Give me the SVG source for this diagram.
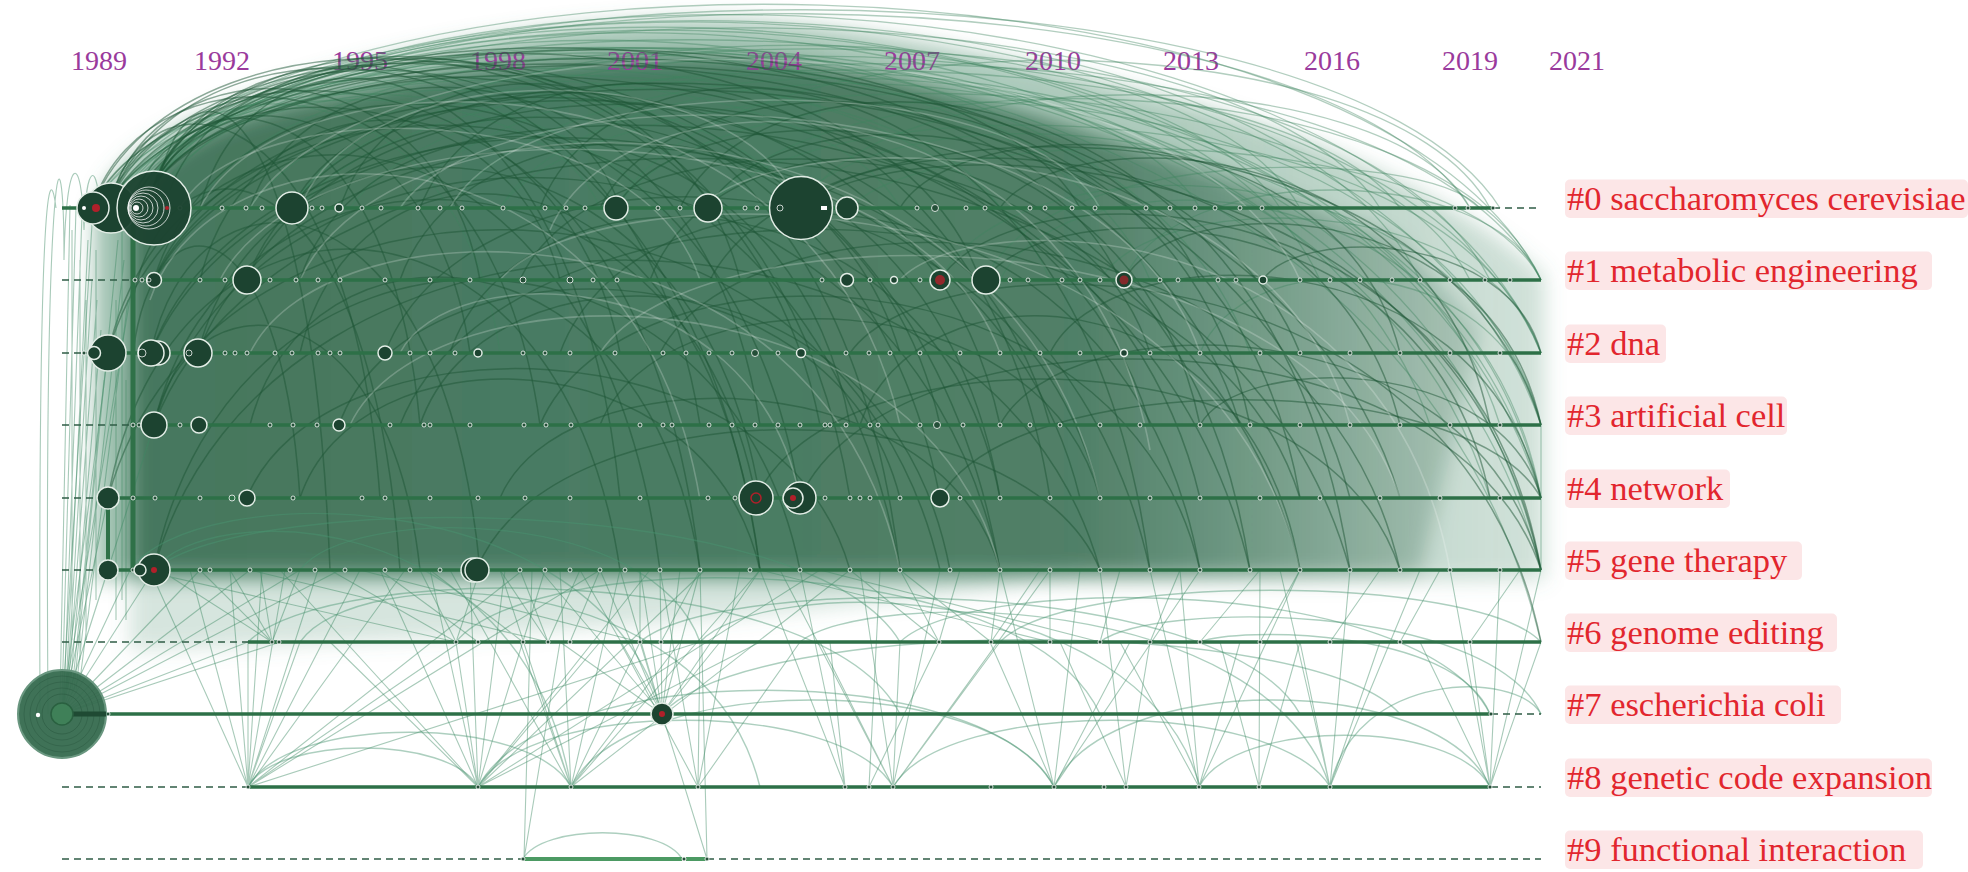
<svg xmlns="http://www.w3.org/2000/svg" width="1968" height="872" viewBox="0 0 1968 872">
<defs>
<style>
.yr{font-family:"Liberation Serif","Times New Roman",serif;font-size:28px;fill:#9a3a9c;text-anchor:middle}
.lb{font-family:"Liberation Serif","Times New Roman",serif;font-size:34.5px;fill:#e2262e}
.bx{fill:#fce6e7}
.o{fill:none;stroke:#3f8560;stroke-width:1.3;stroke-opacity:.4}
.d{fill:none;stroke:#1d5536;stroke-width:1.5;stroke-opacity:.5}
.w{fill:none;stroke:#ffffff;stroke-width:1.6;stroke-opacity:.22}
.l{fill:none;stroke:#3f8a63;stroke-width:1.1;stroke-opacity:.45}
.l2{fill:none;stroke:#4a9470;stroke-width:1.4;stroke-opacity:.45}
.row{stroke:#2d7047;stroke-width:3.5;fill:none}
.dash{stroke:#2f5c46;stroke-width:1.5;stroke-dasharray:7 5;fill:none}
.n{fill:#1c4330;stroke:#e3ede6;stroke-width:1.5}
.dot{fill:#244f38;stroke:#ffffff;stroke-width:.8}
.red{fill:#b0202a}
.ring{fill:none;stroke:#ffffff;stroke-width:1;stroke-opacity:.75}
</style>
<linearGradient id="gM" gradientUnits="userSpaceOnUse" x1="60" y1="0" x2="1545" y2="0">
<stop offset="0" stop-color="#5d977a" stop-opacity=".6"/>
<stop offset=".75" stop-color="#5d977a" stop-opacity=".5"/>
<stop offset="1" stop-color="#5d977a" stop-opacity=".28"/>
</linearGradient>
<linearGradient id="gD" gradientUnits="userSpaceOnUse" x1="60" y1="0" x2="1545" y2="0">
<stop offset="0" stop-color="#2b6246" stop-opacity=".78"/>
<stop offset=".68" stop-color="#2b6246" stop-opacity=".72"/>
<stop offset=".85" stop-color="#2b6246" stop-opacity=".4"/>
<stop offset="1" stop-color="#2b6246" stop-opacity=".12"/>
</linearGradient>
<filter id="bl" x="-5%" y="-10%" width="110%" height="120%"><feGaussianBlur stdDeviation="10"/></filter>
</defs>
<rect width="1968" height="872" fill="#ffffff"/>

<g id="edge-density" filter="url(#bl)">
<path fill="url(#gM)" d="M95 215C110 150 190 115 314 78C440 40 560 24 690 20C830 18 1000 55 1192 105C1330 142 1460 200 1545 275L1545 580L95 580Z"/>
<path fill="url(#gD)" d="M130 210C150 150 230 115 314 100C440 72 560 56 690 56C830 58 950 88 1067 125C1180 160 1290 195 1400 240L1480 330L1420 575L130 575Z"/>
<path fill="#5d977a" fill-opacity=".25" d="M130 570L1100 570C900 610 500 640 130 650Z"/>
</g>

<g id="years">
<text class="yr" x="99" y="70">1989</text>
<text class="yr" x="222" y="70">1992</text>
<text class="yr" x="360" y="70">1995</text>
<text class="yr" x="498" y="70">1998</text>
<text class="yr" x="635" y="70">2001</text>
<text class="yr" x="774" y="70">2004</text>
<text class="yr" x="912" y="70">2007</text>
<text class="yr" x="1053" y="70">2010</text>
<text class="yr" x="1191" y="70">2013</text>
<text class="yr" x="1332" y="70">2016</text>
<text class="yr" x="1470" y="70">2019</text>
<text class="yr" x="1577" y="70">2021</text>
</g>

<g id="connectors">
<path class="o" d="M100 205C273 -74 1368 -74 1541 280"/>
<path class="o" d="M110 200C277 -55 1333 -55 1500 208"/>
<path class="o" d="M120 198C291 -68 1370 -68 1541 353"/>
<path class="o" d="M140 190C300 -48 1310 -48 1470 208"/>
<path class="o" d="M154 180C320 -61 1375 -61 1541 425"/>
<path class="o" d="M93 205C252 -52 1261 -52 1420 280"/>
<path class="o" d="M154 175C320 -59 1375 -59 1541 498"/>
<path class="o" d="M130 195C280 -30 1230 -30 1380 208"/>
<path class="o" d="M150 180C290 -34 1180 -34 1320 280"/>
<path class="o" d="M160 178C326 -58 1375 -58 1541 570"/>
<path class="o" d="M111 200C251 -15 1140 -15 1280 208"/>
<path class="o" d="M154 185C286 -30 1118 -30 1250 353"/>
<path class="o" d="M120 200C250 -4 1070 -4 1200 208"/>
<path class="o" d="M140 190C302 -35 1328 -35 1490 498"/>
<path class="o" d="M170 182C288 -4 1032 -4 1150 280"/>
<path class="o" d="M93 205C214 9 979 9 1100 208"/>
<path class="o" d="M154 180C320 -43 1375 -43 1541 642"/>
<path class="o" d="M200 200C348 -24 1282 -24 1430 425"/>
<path class="o" d="M250 208C399 -15 1341 -15 1490 280"/>
<path class="o" d="M290 208C440 -14 1391 -14 1541 353"/>
<path class="o" d="M160 190C267 15 943 15 1050 280"/>
<path class="o" d="M111 200C218 32 893 32 1000 208"/>
<path class="o" d="M300 208C432 24 1268 24 1400 208"/>
<path class="o" d="M350 208C493 5 1398 5 1541 280"/>
<path class="o" d="M400 208C532 1 1368 1 1500 425"/>
<path class="o" d="M450 208C581 2 1410 2 1541 498"/>
<path class="o" d="M500 208C616 45 1354 45 1470 280"/>
<path class="o" d="M616 208C727 41 1430 41 1541 425"/>
<path class="o" d="M708 208C808 80 1441 80 1541 353"/>
<path class="o" d="M801 200C890 84 1452 84 1541 498"/>
<path class="o" d="M850 208C933 119 1458 119 1541 280"/>
<path class="o" d="M940 280C1012 136 1469 136 1541 425"/>
<path class="o" d="M1000 280C1065 150 1476 150 1541 498"/>
<path class="o" d="M1100 280C1153 188 1488 188 1541 353"/>
<path class="o" d="M1200 353C1241 244 1500 244 1541 425"/>
<path class="o" d="M154 185C244 41 810 41 900 208"/>
<path class="o" d="M154 185C232 55 722 55 800 208"/>
<path class="o" d="M93 205C166 46 627 46 700 280"/>
<path class="o" d="M120 200C178 65 542 65 600 208"/>
<path class="o" d="M140 190C183 56 457 56 500 353"/>
<path class="o" d="M616 208C721 11 1385 11 1490 208"/>
<path class="o" d="M801 208C881 57 1390 57 1470 208"/>
<path class="o" d="M292 208C413 -9 1179 -9 1300 208"/>
<path class="o" d="M708 208C808 52 1441 52 1541 280"/>
<path class="o" d="M985 280C1044 145 1421 145 1480 208"/>
<path class="o" d="M1124 280C1174 160 1491 160 1541 280"/>
<path class="o" d="M500 208C625 4 1416 4 1541 570"/>

<path class="d" d="M154 185C220 -2 634 -2 700 425"/>
<path class="d" d="M154 185C238 -21 766 -21 850 498"/>
<path class="d" d="M154 185C256 -19 898 -19 1000 570"/>
<path class="d" d="M154 185C274 12 1030 12 1150 425"/>
<path class="d" d="M154 185C292 4 1162 4 1300 353"/>
<path class="d" d="M111 200C172 35 559 35 620 353"/>
<path class="d" d="M111 200C189 -15 682 -15 760 570"/>
<path class="d" d="M111 200C210 -16 841 -16 940 498"/>
<path class="d" d="M111 200C232 7 999 7 1120 280"/>
<path class="d" d="M93 205C147 35 486 35 540 425"/>
<path class="d" d="M93 205C190 14 803 14 900 353"/>
<path class="d" d="M154 280C232 17 722 17 800 498"/>
<path class="d" d="M154 280C262 16 942 16 1050 425"/>
<path class="d" d="M154 280C286 5 1118 5 1250 570"/>
<path class="d" d="M154 280C304 -3 1250 -3 1400 498"/>
<path class="d" d="M247 280C330 43 857 43 940 425"/>
<path class="d" d="M247 280C361 17 1086 17 1200 498"/>
<path class="d" d="M108 353C174 60 594 60 660 570"/>
<path class="d" d="M108 353C203 20 805 20 900 570"/>
<path class="d" d="M151 353C262 45 969 45 1080 498"/>
<path class="d" d="M151 353C289 20 1162 20 1300 569"/>
<path class="d" d="M198 353C265 85 693 85 760 498"/>
<path class="d" d="M198 353C312 46 1036 46 1150 570"/>
<path class="d" d="M154 425C226 113 684 113 756 498"/>
<path class="d" d="M154 425C256 74 898 74 1000 570"/>
<path class="d" d="M154 425C298 48 1206 48 1350 570"/>
<path class="d" d="M108 498C169 155 559 155 620 570"/>
<path class="d" d="M108 498C208 129 840 129 940 570"/>
<path class="d" d="M154 569C232 183 722 183 800 570"/>
<path class="d" d="M154 569C268 157 986 157 1100 570"/>
<path class="d" d="M292 208C377 28 915 28 1000 425"/>
<path class="d" d="M292 208C419 9 1223 9 1350 498"/>
<path class="d" d="M385 353C471 125 1014 125 1100 498"/>
<path class="d" d="M616 208C686 81 1130 81 1200 425"/>
<path class="d" d="M708 208C779 82 1229 82 1300 498"/>
<path class="d" d="M801 208C873 121 1328 121 1400 425"/>
<path class="d" d="M801 208C890 124 1452 124 1541 570"/>
<path class="d" d="M940 280C1012 165 1469 165 1541 570"/>
<path class="d" d="M985 280C1046 190 1429 190 1490 498"/>
<path class="d" d="M756 498C833 329 1323 329 1400 570"/>
<path class="d" d="M800 498C889 302 1452 302 1541 570"/>
<path class="d" d="M540 425C619 234 1121 234 1200 570"/>
<path class="d" d="M477 569C552 383 1025 383 1100 570"/>
<path class="d" d="M339 425C406 233 833 233 900 498"/>
<path class="d" d="M247 498C319 315 778 315 850 570"/>
<path class="d" d="M154 185C203 69 511 69 560 280"/>
<path class="d" d="M154 185C186 72 388 72 420 425"/>
<path class="d" d="M111 200C143 70 348 70 380 498"/>
<path class="d" d="M151 353C190 153 441 153 480 570"/>
<path class="d" d="M154 425C186 274 388 274 420 570"/>
<path class="d" d="M940 498C1012 367 1469 367 1541 498"/>
<path class="d" d="M1124 280C1174 189 1491 189 1541 425"/>
<path class="d" d="M660 353C749 180 1311 180 1400 570"/>
<path class="d" d="M1000 425C1065 301 1476 301 1541 570"/>
<path class="d" d="M1200 425C1241 353 1500 353 1541 498"/>
<path class="d" d="M1263 280C1296 228 1508 228 1541 353"/>
<path class="d" d="M850 353C933 234 1458 234 1541 642"/>
<path class="d" d="M200 208C250 2 570 2 620 498"/>
<path class="d" d="M250 208C311 21 699 21 760 425"/>
<path class="d" d="M340 208C407 4 833 4 900 570"/>
<path class="d" d="M420 208C496 9 974 9 1050 498"/>
<path class="d" d="M540 208C613 10 1077 10 1150 570"/>
<path class="d" d="M600 208C678 41 1172 41 1250 425"/>
<path class="d" d="M680 208C760 30 1270 30 1350 570"/>
<path class="d" d="M200 280C260 32 640 32 700 570"/>
<path class="d" d="M300 280C366 69 784 69 850 425"/>
<path class="d" d="M400 280C472 70 928 70 1000 498"/>
<path class="d" d="M520 280C596 108 1074 108 1150 353"/>
<path class="d" d="M650 280C722 85 1178 85 1250 570"/>
<path class="d" d="M300 353C355 113 705 113 760 570"/>
<path class="d" d="M450 353C516 152 934 152 1000 498"/>
<path class="d" d="M560 353C637 140 1123 140 1200 570"/>
<path class="d" d="M250 425C304 208 646 208 700 570"/>
<path class="d" d="M420 425C484 234 886 234 950 570"/>
<path class="d" d="M600 425C660 273 1040 273 1100 498"/>
<path class="d" d="M300 498C355 329 705 329 760 570"/>
<path class="d" d="M500 498C560 355 940 355 1000 570"/>
<path class="d" d="M860 425C913 261 1247 261 1300 570"/>
<path class="d" d="M900 208C960 107 1340 107 1400 353"/>
<path class="d" d="M1000 208C1059 121 1431 121 1490 425"/>
<path class="d" d="M1050 353C1109 232 1482 232 1541 498"/>
<path class="d" d="M130 208C171 67 429 67 470 353"/>
<path class="d" d="M133 300C165 122 368 122 400 570"/>
<path class="d" d="M133 353C153 192 280 192 300 498"/>
<path class="d" d="M154 208C175 44 309 44 330 570"/>
<path class="d" d="M710 280C810 83 1441 83 1541 425"/>
<path class="d" d="M400 425C508 153 1192 153 1300 498"/>
<path class="d" d="M154 185C210 28 564 28 620 208"/>
<path class="d" d="M111 200C155 40 436 40 480 280"/>
<path class="d" d="M170 190C238 2 672 2 740 280"/>
<path class="d" d="M154 185C253 -4 881 -4 980 280"/>
<path class="d" d="M140 190C253 0 967 0 1080 208"/>
<path class="d" d="M154 185C280 3 1074 3 1200 280"/>
<path class="d" d="M93 205C180 -18 733 -18 820 425"/>
<path class="d" d="M111 200C246 -31 1105 -31 1240 425"/>

<path class="w" d="M200 208C284 41 816 41 900 425"/>
<path class="w" d="M300 280C396 70 1004 70 1100 498"/>
<path class="w" d="M250 353C328 193 822 193 900 570"/>
<path class="w" d="M400 208C496 66 1104 66 1200 353"/>
<path class="w" d="M500 280C596 165 1204 165 1300 570"/>
<path class="w" d="M180 208C242 92 638 92 700 280"/>
<path class="w" d="M350 425C428 261 922 261 1000 570"/>
<path class="w" d="M600 353C696 205 1304 205 1400 498"/>
<path class="w" d="M700 208C778 121 1272 121 1350 425"/>
<path class="w" d="M220 280C314 95 906 95 1000 353"/>
<path class="w" d="M400 353C448 258 752 258 800 498"/>
<path class="w" d="M900 280C966 205 1384 205 1450 570"/>
<path class="w" d="M300 208C360 51 740 51 800 208"/>
<path class="w" d="M450 208C528 64 1022 64 1100 208"/>
<path class="w" d="M250 208C376 -1 1174 -1 1300 280"/>
<path class="w" d="M150 300C216 107 634 107 700 500"/>
<path class="w" d="M550 230C622 60 1078 60 1150 450"/>

<path class="l" d="M48 714C44 120 64 110 64 260M64 260C66 150 82 150 84 230M84 230C86 160 98 160 100 215M40 714C38 170 50 160 56 208"/>
<path class="l" d="M62 714L93 208M62 714L108 353M62 714L133 280M62 714L108 498M62 714L154 425M62 714L108 570M62 714L130 570M62 714L154 570M62 714L200 570M62 714L250 570M62 714L300 570M62 714L340 570M62 714L248 642M62 714L280 642"/>
<path class="l" d="M70 205L60 700M76 208L62 700M82 215L64 700M88 240L66 690M92 280L67 690M97 300L68 690M101 330L70 690M104 380L72 690M118 240L74 690M124 260L76 690M128 300L80 680M72 230L72 640M80 260L80 660M86 300L86 640M96 250L96 600M116 300L116 620M122 200L122 600M126 380L126 620"/>
<path class="l" d="M248 787L248 642M248 787L262 570M248 787L285 570M248 787L318 570M248 787L360 570M248 787L405 570M248 787L460 642M248 787L523 570M248 787L600 570M248 787L700 642M248 787L190 570M248 787L150 570M248 787L230 570M248 787L300 642"/>
<path class="l" d="M478 787L430 570M478 787L456 642M478 787L470 570M478 787L505 570M478 787L545 570M478 787L600 642M478 787L650 570M478 787L705 570M478 787L760 642M478 787L820 570M478 787L380 570M478 787L330 642M478 787L280 570"/>
<path class="l" d="M571 787L520 642M571 787L560 570M571 787L620 570M571 787L680 642M571 787L760 570M571 787L850 570M571 787L500 570M571 787L450 570M571 787L640 642"/>
<path class="l" d="M698 787L660 570M698 787L700 642M698 787L740 570M698 787L800 642M698 787L620 642"/>
<path class="l" d="M845 787L800 570M845 787L830 642M869 787L880 570M869 787L939 642M845 787L760 570"/>
<path class="l" d="M893 787L860 570M893 787L900 642M893 787L940 570M893 787L1000 642M893 787L1050 570M893 787L820 642M893 787L780 570"/>
<path class="l" d="M1054 787L1000 570M1054 787L1080 570M1054 787L1130 642M1054 787L1200 570M1054 787L990 642"/>
<path class="l" d="M1126 787L1100 570M1126 787L1150 642M1126 787L1060 642"/>
<path class="l" d="M1199 787L1150 570M1199 787L1240 642M1199 787L1300 570M1199 787L1120 642M1199 787L1180 570"/>
<path class="l" d="M1259 787L1220 642M1259 787L1260 570M1259 787L1300 642"/>
<path class="l" d="M1330 787L1280 570M1330 787L1380 642M1330 787L1420 570M1330 787L1300 642M1330 787L1350 570"/>
<path class="l" d="M1490 787L1450 570M1490 787L1541 642M1490 787L1500 570M1490 787L1420 642M1490 787L1541 570M1490 787L1470 642"/>
<path class="l" d="M662 714L600 570M662 714L620 570M662 714L640 570M662 714L660 570M662 714L680 570M662 714L700 570M662 714L560 642M662 714L640 642M662 714L720 642M662 714L540 570M662 714L760 570M662 714L580 570"/>
<path class="l" d="M272 642L230 570M272 642L300 570M272 642L260 570M456 642L420 570M456 642L480 570M548 642L520 570M548 642L580 570M939 642L900 570M939 642L960 570M991 642L1000 570M991 642L1040 570"/>
<path class="l" d="M160 570L272 642M200 570L272 642M330 570L456 642M380 570L478 642M430 570L523 642M500 570L548 642M600 570L570 642M640 570L640 642M700 570L661 642M850 570L939 642M900 570L991 642M1050 570L1050 642M1120 570L1100 642M1180 570L1150 642M1260 570L1200 642M1300 570L1260 642M1380 570L1330 642M1440 570L1400 642M1520 570L1470 642M140 570L456 642M250 570L548 642M360 570L640 642M760 570L1050 642M820 570L1100 642"/>
<path class="l" d="M524 859L532 570M707 859L700 570M707 859L662 714M524 859L560 642M1541 425L1541 570"/>

<path class="l2" d="M248 787C287 714 532 714 571 787"/>
<path class="l2" d="M248 787C276 735 450 735 478 787"/>
<path class="l2" d="M478 787C528 698 843 698 893 787"/>
<path class="l2" d="M571 787C629 671 996 671 1054 787"/>
<path class="l2" d="M893 787C945 698 1278 698 1330 787"/>
<path class="l2" d="M1199 787C1234 718 1455 718 1490 787"/>
<path class="l2" d="M1054 787C1106 671 1438 671 1490 787"/>
<path class="l2" d="M523 859C542 824 663 824 682 859"/>
<path class="l2" d="M456 642C533 547 1023 547 1100 714"/>
<path class="l2" d="M640 642C719 574 1221 574 1300 714"/>
<path class="l2" d="M248 642C326 561 822 561 900 714"/>
<path class="l2" d="M662 714C751 615 1311 615 1400 714"/>
<path class="l2" d="M900 642C971 574 1419 574 1490 714"/>
<path class="l2" d="M1000 642C1065 573 1476 573 1541 642"/>
<path class="l2" d="M300 642C355 562 705 562 760 787"/>
<path class="l2" d="M130 570C194 479 598 479 662 714"/>
<path class="l2" d="M700 642C760 575 1140 575 1200 787"/>
<path class="l2" d="M1100 642C1153 601 1488 601 1541 714"/>
<path class="l2" d="M154 570C204 500 521 500 571 787"/>
<path class="l2" d="M154 570C244 491 810 491 900 642"/>
<path class="l2" d="M800 642C864 589 1266 589 1330 787"/>
<path class="l2" d="M1200 642C1235 627 1455 627 1490 714"/>
<path class="l2" d="M478 787C547 658 985 658 1054 787"/>
<path class="l2" d="M300 570C348 505 652 505 700 642"/>
<path class="l2" d="M1330 787C1355 670 1516 670 1541 714"/>
</g>

<g id="timelines">
<path class="row" d="M62 208H1493"/>
<path class="dash" d="M1493 208H1541"/>
<path class="dash" d="M62 280H140"/>
<path class="row" d="M140 280H1541"/>
<path class="dash" d="M62 353H88"/>
<path class="row" d="M88 353H1541"/>
<path class="dash" d="M62 425H133"/>
<path class="row" d="M133 425H1541"/>
<path class="dash" d="M62 498H98"/>
<path class="row" d="M98 498H1541"/>
<path class="dash" d="M62 570H98"/>
<path class="row" d="M98 570H1541"/>
<path class="dash" d="M62 642H248"/>
<path class="row" d="M248 642H1541"/>
<path class="row" d="M62 714H1491"/>
<path class="dash" d="M1491 714H1541"/>
<path class="dash" d="M62 787H248"/>
<path class="row" d="M248 787H1491"/>
<path class="dash" d="M1491 787H1541"/>
<path class="dash" d="M62 859H523"/>
<path d="M523 859H682M686 859H707" stroke="#4c9a63" stroke-width="4"/>
<path class="dash" d="M707 859H1541"/>
<path d="M133 205V572" stroke="#2f7148" stroke-width="5"/>
<path d="M108 500V570" stroke="#2f7148" stroke-width="4"/>
</g>

<g id="minor-nodes">
<g class="dot">
<circle cx="180" cy="208" r="2"/><circle cx="222" cy="208" r="2"/><circle cx="246" cy="208" r="2"/><circle cx="262" cy="208" r="2"/><circle cx="312" cy="208" r="2"/><circle cx="322" cy="208" r="2"/><circle cx="362" cy="208" r="2"/><circle cx="381" cy="208" r="2"/><circle cx="418" cy="208" r="2"/><circle cx="440" cy="208" r="2"/><circle cx="462" cy="208" r="2"/><circle cx="503" cy="208" r="2"/><circle cx="545" cy="208" r="2"/><circle cx="566" cy="208" r="2"/><circle cx="585" cy="208" r="2"/><circle cx="658" cy="208" r="2"/><circle cx="680" cy="208" r="2"/><circle cx="745" cy="208" r="2"/><circle cx="757" cy="208" r="2"/><circle cx="917" cy="208" r="2"/><circle cx="935" cy="208" r="3.5"/><circle cx="966" cy="208" r="2"/><circle cx="985" cy="208" r="2"/><circle cx="1030" cy="208" r="2"/><circle cx="1045" cy="208" r="2"/><circle cx="1072" cy="208" r="2"/><circle cx="1095" cy="208" r="2"/><circle cx="1146" cy="208" r="2"/><circle cx="1170" cy="208" r="2"/><circle cx="1195" cy="208" r="2"/><circle cx="1215" cy="208" r="2"/><circle cx="1240" cy="208" r="2"/><circle cx="1262" cy="208" r="2"/><circle cx="1455" cy="208" r="2"/><circle cx="1468" cy="208" r="2"/><circle cx="1493" cy="208" r="2"/>
<circle cx="135" cy="280" r="2"/><circle cx="142" cy="280" r="2"/><circle cx="200" cy="280" r="2"/><circle cx="225" cy="280" r="2"/><circle cx="270" cy="280" r="2"/><circle cx="296" cy="280" r="2"/><circle cx="318" cy="280" r="2"/><circle cx="340" cy="280" r="2"/><circle cx="385" cy="280" r="2"/><circle cx="430" cy="280" r="2"/><circle cx="470" cy="280" r="2"/><circle cx="523" cy="280" r="3"/><circle cx="570" cy="280" r="3"/><circle cx="593" cy="280" r="2"/><circle cx="617" cy="280" r="2"/><circle cx="822" cy="280" r="2"/><circle cx="870" cy="280" r="2"/><circle cx="920" cy="280" r="2"/><circle cx="1010" cy="280" r="2"/><circle cx="1028" cy="280" r="2"/><circle cx="1062" cy="280" r="2"/><circle cx="1080" cy="280" r="2"/><circle cx="1100" cy="280" r="2"/><circle cx="1160" cy="280" r="2"/><circle cx="1178" cy="280" r="2"/><circle cx="1218" cy="280" r="2"/><circle cx="1236" cy="280" r="2"/><circle cx="1300" cy="280" r="2"/><circle cx="1330" cy="280" r="2"/><circle cx="1360" cy="280" r="2"/><circle cx="1392" cy="280" r="2"/><circle cx="1420" cy="280" r="2"/><circle cx="1450" cy="280" r="2"/><circle cx="1485" cy="280" r="2"/><circle cx="1510" cy="280" r="2"/>
<circle cx="84" cy="353" r="2"/><circle cx="225" cy="353" r="2"/><circle cx="235" cy="353" r="2"/><circle cx="247" cy="353" r="2"/><circle cx="275" cy="353" r="2"/><circle cx="292" cy="353" r="2"/><circle cx="318" cy="353" r="2"/><circle cx="330" cy="353" r="2"/><circle cx="340" cy="353" r="2"/><circle cx="410" cy="353" r="2"/><circle cx="430" cy="353" r="2"/><circle cx="455" cy="353" r="2"/><circle cx="523" cy="353" r="2"/><circle cx="545" cy="353" r="2"/><circle cx="570" cy="353" r="2"/><circle cx="615" cy="353" r="2"/><circle cx="663" cy="353" r="2"/><circle cx="686" cy="353" r="2"/><circle cx="709" cy="353" r="2"/><circle cx="732" cy="353" r="2"/><circle cx="755" cy="353" r="3.5"/><circle cx="778" cy="353" r="2"/><circle cx="846" cy="353" r="2"/><circle cx="869" cy="353" r="2"/><circle cx="890" cy="353" r="2"/><circle cx="920" cy="353" r="2"/><circle cx="960" cy="353" r="2"/><circle cx="1000" cy="353" r="2"/><circle cx="1040" cy="353" r="2"/><circle cx="1080" cy="353" r="2"/><circle cx="1150" cy="353" r="2"/><circle cx="1200" cy="353" r="2"/><circle cx="1260" cy="353" r="2"/><circle cx="1300" cy="353" r="2"/><circle cx="1350" cy="353" r="2"/><circle cx="1400" cy="353" r="2"/><circle cx="1450" cy="353" r="2"/><circle cx="1500" cy="353" r="2"/>
<circle cx="133" cy="425" r="2"/><circle cx="139" cy="425" r="2"/><circle cx="180" cy="425" r="2"/><circle cx="270" cy="425" r="2"/><circle cx="293" cy="425" r="2"/><circle cx="317" cy="425" r="2"/><circle cx="390" cy="425" r="2"/><circle cx="424" cy="425" r="2"/><circle cx="430" cy="425" r="2"/><circle cx="470" cy="425" r="2"/><circle cx="524" cy="425" r="2"/><circle cx="546" cy="425" r="2"/><circle cx="571" cy="425" r="2"/><circle cx="640" cy="425" r="2"/><circle cx="663" cy="425" r="2"/><circle cx="672" cy="425" r="2"/><circle cx="709" cy="425" r="2"/><circle cx="732" cy="425" r="2"/><circle cx="755" cy="425" r="2"/><circle cx="778" cy="425" r="2"/><circle cx="800" cy="425" r="2"/><circle cx="825" cy="425" r="2"/><circle cx="830" cy="425" r="2"/><circle cx="846" cy="425" r="2"/><circle cx="870" cy="425" r="2"/><circle cx="878" cy="425" r="2"/><circle cx="920" cy="425" r="2"/><circle cx="937" cy="425" r="3.5"/><circle cx="963" cy="425" r="2"/><circle cx="1000" cy="425" r="2"/><circle cx="1030" cy="425" r="2"/><circle cx="1060" cy="425" r="2"/><circle cx="1100" cy="425" r="2"/><circle cx="1140" cy="425" r="2"/><circle cx="1200" cy="425" r="2"/><circle cx="1250" cy="425" r="2"/><circle cx="1300" cy="425" r="2"/><circle cx="1350" cy="425" r="2"/><circle cx="1400" cy="425" r="2"/><circle cx="1450" cy="425" r="2"/><circle cx="1500" cy="425" r="2"/>
<circle cx="133" cy="498" r="2"/><circle cx="155" cy="498" r="2"/><circle cx="200" cy="498" r="2"/><circle cx="293" cy="498" r="2"/><circle cx="362" cy="498" r="2"/><circle cx="385" cy="498" r="2"/><circle cx="430" cy="498" r="2"/><circle cx="478" cy="498" r="2"/><circle cx="525" cy="498" r="2"/><circle cx="570" cy="498" r="2"/><circle cx="640" cy="498" r="2"/><circle cx="708" cy="498" r="2"/><circle cx="735" cy="498" r="2"/><circle cx="825" cy="498" r="2"/><circle cx="850" cy="498" r="2"/><circle cx="860" cy="498" r="2"/><circle cx="870" cy="498" r="2"/><circle cx="900" cy="498" r="2"/><circle cx="960" cy="498" r="2"/><circle cx="1000" cy="498" r="2"/><circle cx="1050" cy="498" r="2"/><circle cx="1100" cy="498" r="2"/><circle cx="1150" cy="498" r="2"/><circle cx="1200" cy="498" r="2"/><circle cx="1260" cy="498" r="2"/><circle cx="1320" cy="498" r="2"/><circle cx="1380" cy="498" r="2"/><circle cx="1440" cy="498" r="2"/><circle cx="1500" cy="498" r="2"/>
<circle cx="133" cy="570" r="2"/><circle cx="200" cy="570" r="2"/><circle cx="210" cy="570" r="2"/><circle cx="250" cy="570" r="2"/><circle cx="290" cy="570" r="2"/><circle cx="315" cy="570" r="2"/><circle cx="345" cy="570" r="2"/><circle cx="385" cy="570" r="2"/><circle cx="410" cy="570" r="2"/><circle cx="440" cy="570" r="2"/><circle cx="520" cy="570" r="2"/><circle cx="545" cy="570" r="2"/><circle cx="570" cy="570" r="2"/><circle cx="600" cy="570" r="2"/><circle cx="625" cy="570" r="2"/><circle cx="660" cy="570" r="2"/><circle cx="700" cy="570" r="2"/><circle cx="750" cy="570" r="2"/><circle cx="800" cy="570" r="2"/><circle cx="850" cy="570" r="2"/><circle cx="900" cy="570" r="2"/><circle cx="950" cy="570" r="2"/><circle cx="1000" cy="570" r="2"/><circle cx="1050" cy="570" r="2"/><circle cx="1100" cy="570" r="2"/><circle cx="1150" cy="570" r="2"/><circle cx="1200" cy="570" r="2"/><circle cx="1250" cy="570" r="2"/><circle cx="1300" cy="570" r="2"/><circle cx="1350" cy="570" r="2"/><circle cx="1400" cy="570" r="2"/><circle cx="1450" cy="570" r="2"/><circle cx="1500" cy="570" r="2"/>
<circle cx="272" cy="642" r="2"/><circle cx="279" cy="642" r="2"/><circle cx="456" cy="642" r="2"/><circle cx="478" cy="642" r="2"/><circle cx="523" cy="642" r="2"/><circle cx="548" cy="642" r="2"/><circle cx="570" cy="642" r="2"/><circle cx="640" cy="642" r="2"/><circle cx="661" cy="642" r="2"/><circle cx="939" cy="642" r="2"/><circle cx="991" cy="642" r="2"/><circle cx="1050" cy="642" r="2"/><circle cx="1100" cy="642" r="2"/><circle cx="1150" cy="642" r="2"/><circle cx="1200" cy="642" r="2"/><circle cx="1260" cy="642" r="2"/><circle cx="1330" cy="642" r="2"/><circle cx="1400" cy="642" r="2"/><circle cx="1470" cy="642" r="2"/>
<circle cx="108" cy="714" r="2"/><circle cx="1491" cy="714" r="2"/>
<circle cx="248" cy="787" r="2"/><circle cx="478" cy="787" r="2"/><circle cx="571" cy="787" r="2"/><circle cx="698" cy="787" r="2"/><circle cx="845" cy="787" r="2"/><circle cx="869" cy="787" r="2"/><circle cx="893" cy="787" r="2"/><circle cx="991" cy="787" r="2"/><circle cx="1054" cy="787" r="2"/><circle cx="1104" cy="787" r="2"/><circle cx="1126" cy="787" r="2"/><circle cx="1199" cy="787" r="2"/><circle cx="1259" cy="787" r="2"/><circle cx="1330" cy="787" r="2"/><circle cx="1490" cy="787" r="2"/>
<circle cx="523" cy="859" r="2"/><circle cx="684" cy="859" r="2"/><circle cx="707" cy="859" r="2"/>
</g>
</g>

<g id="n0a"><circle class="n" cx="111" cy="208" r="25"/></g>
<g id="n0b"><circle class="n" cx="93" cy="208" r="16"/><circle class="red" cx="96" cy="208" r="4"/><circle cx="84" cy="208" r="2" fill="#fff"/></g>
<g id="n0c"><circle class="n" cx="154" cy="208" r="37" fill-opacity=".95"/><circle class="ring" cx="149" cy="208" r="21"/><circle class="ring" cx="146" cy="208" r="18"/><circle class="ring" cx="143" cy="208" r="15"/><circle class="ring" cx="141" cy="208" r="12"/><circle class="ring" cx="139" cy="208" r="9"/><circle class="ring" cx="137" cy="208" r="6"/><circle cx="136" cy="208" r="3" fill="#fff"/><circle class="red" cx="167" cy="208" r="2"/></g>
<g id="n0d"><circle class="n" cx="292" cy="208" r="16"/></g>
<g id="n0e"><circle class="n" cx="339" cy="208" r="4"/></g>
<g id="n0f"><circle class="n" cx="616" cy="208" r="12"/></g>
<g id="n0g"><circle class="n" cx="708" cy="208" r="14"/></g>
<g id="n0h"><circle class="n" cx="801" cy="208" r="31.5"/><circle class="ring" cx="780" cy="208" r="3"/><rect x="821" y="206" width="6" height="4" fill="#fff"/></g>
<g id="n0i"><circle class="n" cx="847" cy="208" r="11"/></g>

<g id="n1a"><circle class="n" cx="154" cy="280" r="7.5"/><circle class="ring" cx="149" cy="280" r="2"/></g>
<g id="n1b"><circle class="n" cx="247" cy="280" r="14"/></g>
<g id="n1c"><circle class="n" cx="847" cy="280" r="6.5"/></g>
<g id="n1d"><circle class="n" cx="894" cy="280" r="3.5"/></g>
<g id="n1e"><circle class="n" cx="940" cy="280" r="10"/><circle class="red" cx="940" cy="280" r="5" fill-opacity=".8"/></g>
<g id="n1f"><circle class="n" cx="986" cy="280" r="14"/></g>
<g id="n1g"><circle class="n" cx="1124" cy="280" r="8" fill="#3a1a1a"/><circle class="red" cx="1124" cy="280" r="4.5" fill-opacity=".7"/></g>
<g id="n1h"><circle class="n" cx="1263" cy="280" r="4" fill="#2b1313"/></g>

<g id="n2a"><circle class="n" cx="108" cy="353" r="18"/><circle class="n" cx="94" cy="353" r="6.5"/></g>
<g id="n2b"><circle class="n" cx="158" cy="353" r="12"/><circle class="n" cx="151" cy="353" r="13"/><circle class="ring" cx="142" cy="353" r="4"/></g>
<g id="n2c"><circle class="n" cx="198" cy="353" r="14"/><circle class="ring" cx="189" cy="353" r="3"/></g>
<g id="n2d"><circle class="n" cx="385" cy="353" r="7"/></g>
<g id="n2e"><circle class="n" cx="478" cy="353" r="4"/></g>
<g id="n2f"><circle class="n" cx="801" cy="353" r="4.5" fill="#122a1e"/></g>
<g id="n2g"><circle class="n" cx="1124" cy="353" r="3.5"/></g>

<g id="n3a"><circle class="n" cx="154" cy="425" r="13"/></g>
<g id="n3b"><circle class="n" cx="199" cy="425" r="8"/></g>
<g id="n3c"><circle class="n" cx="339" cy="425" r="6"/></g>

<g id="n4a"><circle class="n" cx="108" cy="498" r="11"/></g>
<g id="n4b"><circle class="n" cx="247" cy="498" r="8"/><circle class="ring" cx="232" cy="498" r="3"/></g>
<g id="n4c"><circle class="n" cx="756" cy="498" r="17"/><circle cx="756" cy="498" r="5" fill="none" stroke="#b0202a" stroke-width="1.5"/></g>
<g id="n4d"><circle class="n" cx="800" cy="498" r="16"/><circle class="n" cx="793" cy="498" r="10"/><circle class="red" cx="793" cy="498" r="3"/></g>
<g id="n4e"><circle class="n" cx="940" cy="498" r="9"/></g>

<g id="n5a"><circle class="n" cx="108" cy="570" r="10"/></g>
<g id="n5b"><circle class="n" cx="154" cy="570" r="16"/><circle class="n" cx="140" cy="570" r="6"/><circle class="red" cx="154" cy="570" r="3"/></g>
<g id="n5c"><circle class="n" cx="473" cy="570" r="12"/><circle class="n" cx="477" cy="570" r="12"/></g>

<g id="n7a">
<circle cx="62" cy="714" r="44" fill="#356a4e" stroke="#6a9780" stroke-width="2" fill-opacity=".95"/>
<circle cx="62" cy="714" r="38" fill="none" stroke="#2b5a41" stroke-opacity=".5"/>
<circle cx="62" cy="714" r="32" fill="none" stroke="#2b5a41" stroke-opacity=".5"/>
<circle cx="62" cy="714" r="26" fill="none" stroke="#2b5a41" stroke-opacity=".5"/>
<circle cx="62" cy="714" r="20" fill="none" stroke="#2b5a41" stroke-opacity=".6"/>
<path d="M62 714H106" stroke="#1f4a33" stroke-width="5"/>
<circle cx="62" cy="714" r="11" fill="#3f8058" stroke="#2a6040" stroke-width="1.5"/>
<circle cx="38" cy="715" r="2.2" fill="#fff"/>
</g>
<g id="n7b"><circle class="n" cx="662" cy="714" r="11"/><circle class="red" cx="662" cy="714" r="3"/></g>

<g id="cluster-labels">
<g id="c0"><rect class="bx" x="1565" y="179.5" width="403" height="38.5" rx="5"/><text class="lb" x="1567" y="209.5">#0 saccharomyces cerevisiae</text></g>
<g id="c1"><rect class="bx" x="1565" y="251.5" width="367" height="38.5" rx="5"/><text class="lb" x="1567" y="281.5">#1 metabolic engineering</text></g>
<g id="c2"><rect class="bx" x="1565" y="324.5" width="101" height="38.5" rx="5"/><text class="lb" x="1567" y="354.5">#2 dna</text></g>
<g id="c3"><rect class="bx" x="1565" y="396.5" width="222" height="38.5" rx="5"/><text class="lb" x="1567" y="426.5">#3 artificial cell</text></g>
<g id="c4"><rect class="bx" x="1565" y="469.5" width="165" height="38.5" rx="5"/><text class="lb" x="1567" y="499.5">#4 network</text></g>
<g id="c5"><rect class="bx" x="1565" y="541.5" width="237" height="38.5" rx="5"/><text class="lb" x="1567" y="571.5">#5 gene therapy</text></g>
<g id="c6"><rect class="bx" x="1565" y="613.5" width="272" height="38.5" rx="5"/><text class="lb" x="1567" y="643.5">#6 genome editing</text></g>
<g id="c7"><rect class="bx" x="1565" y="685.5" width="276" height="38.5" rx="5"/><text class="lb" x="1567" y="715.5">#7 escherichia coli</text></g>
<g id="c8"><rect class="bx" x="1565" y="758.5" width="367" height="38.5" rx="5"/><text class="lb" x="1567" y="788.5">#8 genetic code expansion</text></g>
<g id="c9"><rect class="bx" x="1565" y="830.5" width="358" height="38.5" rx="5"/><text class="lb" x="1567" y="860.5">#9 functional interaction</text></g>
</g>
</svg>
